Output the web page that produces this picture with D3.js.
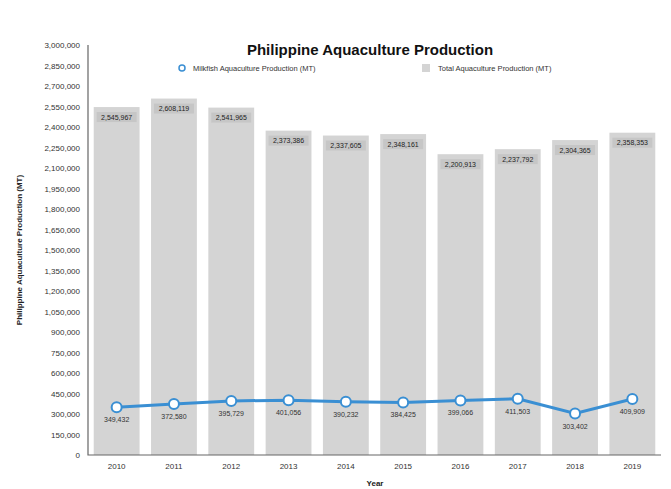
<!DOCTYPE html>
<html>
<head>
<meta charset="utf-8">
<script src="https://cdn.jsdelivr.net/npm/d3@7"></script>
<style>
  body { margin: 0; background: #fff; }
  text { font-family: "Liberation Sans", Arial, sans-serif; }
</style>
</head>
<body>
<svg id="chart" width="671" height="489"></svg>
<script>
// data
const years = ["2010", "2011", "2012", "2013", "2014", "2015", "2016", "2017", "2018", "2019"];
const totalProd = [2545967, 2608119, 2541965, 2373386, 2337605, 2348161, 2200913, 2237792, 2304365, 2358353];
const milkfishProd = [349432, 372580, 395729, 401056, 390232, 384425, 399066, 411503, 303402, 409909];
const yTicks = d3.range(0, 3000001, 150000);

const W = 671, H = 489;
const margin = { top: 45, left: 88, right: 10, bottom: 34 };
const fmt = d3.format(",");

const svg = d3.select("#chart");

const x = d3.scaleBand()
  .domain(years)
  .range([margin.left, W - margin.right])
  .paddingInner(0.2)
  .paddingOuter(0.1);

const y = d3.scaleLinear()
  .domain([0, 3000000])
  .range([H - margin.bottom, margin.top]);

// bars
svg.append("g").selectAll("rect")
  .data(totalProd)
  .join("rect")
  .attr("x", (d, i) => x(years[i]))
  .attr("y", d => y(d))
  .attr("width", x.bandwidth())
  .attr("height", d => y(0) - y(d))
  .attr("fill", "#d4d4d4");

// bar value labels
const barLab = svg.append("g").selectAll("g")
  .data(totalProd)
  .join("g")
  .attr("transform", (d, i) => `translate(${x(years[i]) + x.bandwidth() / 2},${y(d) + 10})`);
barLab.append("rect")
  .attr("x", -20).attr("y", -5)
  .attr("width", 40).attr("height", 10)
  .attr("fill", "#c6c6c6");
barLab.append("text")
  .attr("text-anchor", "middle")
  .attr("dy", "0.35em")
  .attr("font-size", 7)
  .attr("fill", "#222")
  .text(d => fmt(d));

// y axis
const yAxis = svg.append("g")
  .attr("transform", `translate(${margin.left},0)`)
  .call(d3.axisLeft(y).tickValues(yTicks).tickSize(0).tickPadding(8).tickFormat(fmt));
yAxis.select(".domain").remove();
yAxis.selectAll("text").attr("font-size", 8).attr("fill", "#333")
  .style("font-family", '"Liberation Sans", Arial, sans-serif');

// x axis
const xAxis = svg.append("g")
  .attr("transform", `translate(0,${y(0)})`)
  .call(d3.axisBottom(x).tickSize(0).tickPadding(8));
xAxis.select(".domain").remove();
xAxis.selectAll("text").attr("font-size", 8).attr("fill", "#333")
  .style("font-family", '"Liberation Sans", Arial, sans-serif');

// frame lines
svg.append("path")
  .attr("d", `M${margin.left},${margin.top}V${y(0)}H${W - margin.right}`)
  .attr("fill", "none")
  .attr("stroke", "#666")
  .attr("stroke-width", 1.2);

// milkfish line
const line = d3.line()
  .x((d, i) => x(years[i]) + x.bandwidth() / 2)
  .y(d => y(d));
svg.append("path")
  .datum(milkfishProd)
  .attr("d", line)
  .attr("fill", "none")
  .attr("stroke", "#3a8fd3")
  .attr("stroke-width", 3);

svg.append("g").selectAll("circle")
  .data(milkfishProd)
  .join("circle")
  .attr("cx", (d, i) => x(years[i]) + x.bandwidth() / 2)
  .attr("cy", d => y(d))
  .attr("r", 5)
  .attr("fill", "#fff")
  .attr("stroke", "#3a8fd3")
  .attr("stroke-width", 2);

svg.append("g").selectAll("text")
  .data(milkfishProd)
  .join("text")
  .attr("x", (d, i) => x(years[i]) + x.bandwidth() / 2)
  .attr("y", d => y(d) + 15)
  .attr("text-anchor", "middle")
  .attr("font-size", 7)
  .attr("fill", "#333")
  .text(d => fmt(d));

// title
svg.append("text")
  .attr("x", 370).attr("y", 55)
  .attr("text-anchor", "middle")
  .attr("font-size", 15)
  .attr("font-weight", "bold")
  .attr("fill", "#111")
  .text("Philippine Aquaculture Production");

// legend
svg.append("circle")
  .attr("cx", 182).attr("cy", 68).attr("r", 3)
  .attr("fill", "#fff").attr("stroke", "#3a8fd3").attr("stroke-width", 1.5);
svg.append("text")
  .attr("x", 193).attr("y", 71)
  .attr("font-size", 7.5).attr("fill", "#333")
  .text("Milkfish Aquaculture Production (MT)");
svg.append("rect")
  .attr("x", 422).attr("y", 64).attr("width", 8).attr("height", 8)
  .attr("fill", "#d4d4d4");
svg.append("text")
  .attr("x", 438).attr("y", 71)
  .attr("font-size", 7.5).attr("fill", "#333")
  .text("Total Aquaculture Production (MT)");

// axis titles
svg.append("text")
  .attr("transform", `translate(22,${(margin.top + y(0)) / 2}) rotate(-90)`)
  .attr("text-anchor", "middle")
  .attr("font-size", 8)
  .attr("font-weight", "bold")
  .attr("fill", "#222")
  .text("Philippine Aquaculture Production (MT)");
svg.append("text")
  .attr("x", 375).attr("y", 486)
  .attr("text-anchor", "middle")
  .attr("font-size", 8)
  .attr("font-weight", "bold")
  .attr("fill", "#222")
  .text("Year");
</script>
</body>
</html>
